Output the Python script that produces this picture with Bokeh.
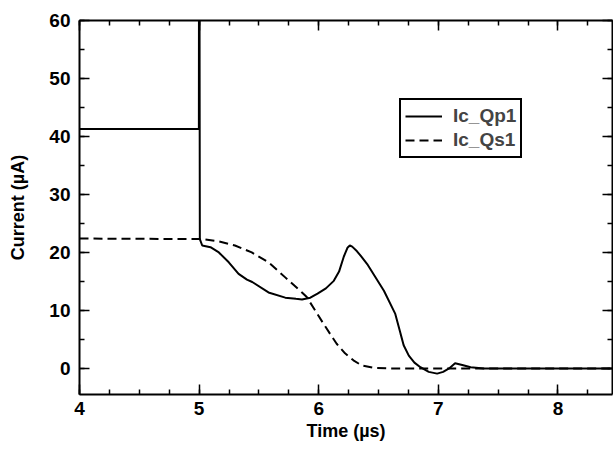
from bokeh.plotting import figure
from bokeh.models import (LinearAxis, SingleIntervalTicker, Legend, LegendItem,
                          Range1d, CustomJSTickFormatter)
from bokeh.embed import file_html
from bokeh.resources import INLINE

# Ic_Qp1 (solid)
qp1_t = [4.0, 4.998, 4.999, 5.003, 5.006, 5.026, 5.095, 5.165, 5.248, 5.33,
         5.40, 5.444, 5.58, 5.72, 5.81, 5.86, 5.93, 5.99, 6.06, 6.126, 6.17,
         6.21, 6.24, 6.26, 6.28, 6.32, 6.36, 6.405, 6.545, 6.64, 6.684, 6.71,
         6.753, 6.80, 6.85, 6.92, 6.99, 7.04, 7.09, 7.14, 7.20, 7.27, 7.38, 8.5]
qp1_i = [41.3, 41.3, 70.0, 70.0, 22.3, 21.2, 20.9, 20.0, 18.3, 16.3,
         15.3, 14.9, 13.1, 12.2, 12.0, 11.9, 12.2, 12.9, 13.8, 15.1, 16.7,
         19.3, 20.8, 21.2, 21.0, 20.2, 19.2, 18.0, 13.4, 9.4, 6.0, 4.0,
         2.2, 1.0, 0.2, -0.6, -0.9, -0.6, 0.0, 0.9, 0.6, 0.2, 0.0, 0.0]

# Ic_Qs1 (dashed)
qs1_t = [4.0, 5.03, 5.165, 5.30, 5.44, 5.58, 5.72, 5.86, 5.90, 5.97, 6.04,
         6.10, 6.15, 6.22, 6.29, 6.36, 6.46, 6.6, 8.5]
qs1_i = [22.4, 22.3, 21.9, 21.2, 20.0, 18.3, 15.7, 13.1, 12.3, 10.0, 7.7,
         5.8, 4.25, 2.6, 1.4, 0.5, 0.1, 0.0, 0.0]

x_label = "Time (µs)"
y_label = "Current (µA)"
series_names = ["Ic_Qp1", "Ic_Qs1"]

FONT = "Liberation Sans"

p = figure(width=613, height=454, x_range=Range1d(4, 8.456), y_range=Range1d(-4.5, 60),
           output_backend="svg", toolbar_location=None,
           min_border_left=79, min_border_right=1, min_border_top=20, min_border_bottom=60)
p.grid.visible = False
p.outline_line_color = None
p.background_fill_color = "white"
p.border_fill_color = "white"

r1 = p.line(qp1_t, qp1_i, line_color="black", line_width=2)
r2 = p.line(qs1_t, qs1_i, line_color="black", line_width=2, line_dash="9 5")


def style(ax):
    ax.axis_line_width = 2
    ax.axis_line_color = "black"
    ax.major_tick_in = 10
    ax.major_tick_out = 0
    ax.minor_tick_in = 5
    ax.minor_tick_out = 0
    ax.major_tick_line_width = 1.5
    ax.minor_tick_line_width = 1.5
    ax.major_tick_line_color = "black"
    ax.minor_tick_line_color = "black"
    ax.major_label_text_font = FONT
    ax.major_label_text_font_style = "bold"
    ax.major_label_text_font_size = "19px"
    ax.major_label_text_color = "black"
    ax.axis_label_text_font = FONT
    ax.axis_label_text_font_style = "bold"
    ax.axis_label_text_font_size = "18px"
    ax.axis_label_text_color = "black"


xax = p.xaxis[0]
xax.ticker = SingleIntervalTicker(interval=1, num_minor_ticks=4)
xax.axis_label = x_label
style(xax)
xax.major_label_standoff = 7
xax.axis_label_standoff = 3

yax = p.yaxis[0]
yax.ticker = SingleIntervalTicker(interval=10, num_minor_ticks=2)
yax.axis_label = y_label
style(yax)
yax.major_label_standoff = 9
yax.axis_label_standoff = 18

blank = "return ''"
top = LinearAxis(ticker=SingleIntervalTicker(interval=1, num_minor_ticks=4),
                 formatter=CustomJSTickFormatter(code=blank))
style(top)
top.major_label_standoff = 0
top.major_label_text_font_size = "1px"
p.add_layout(top, "above")

right = LinearAxis(ticker=SingleIntervalTicker(interval=10, num_minor_ticks=2),
                   formatter=CustomJSTickFormatter(code=blank))
style(right)
right.major_label_standoff = 0
right.major_label_text_font_size = "1px"
p.add_layout(right, "right")

legend = Legend(items=[LegendItem(label=series_names[0], renderers=[r1]),
                       LegendItem(label=series_names[1], renderers=[r2])],
                location=(320, 236))
legend.margin = 0
legend.padding = 4
legend.spacing = 0
legend.glyph_width = 37
legend.glyph_height = 24
legend.label_height = 24
legend.label_standoff = 11
legend.label_text_font = FONT
legend.label_text_font_style = "bold"
legend.label_text_font_size = "19px"
legend.border_line_color = "black"
legend.border_line_alpha = 1
legend.border_line_width = 2
legend.background_fill_alpha = 1
p.add_layout(legend, "center")

open("out.html", "w").write(file_html(p, INLINE))
